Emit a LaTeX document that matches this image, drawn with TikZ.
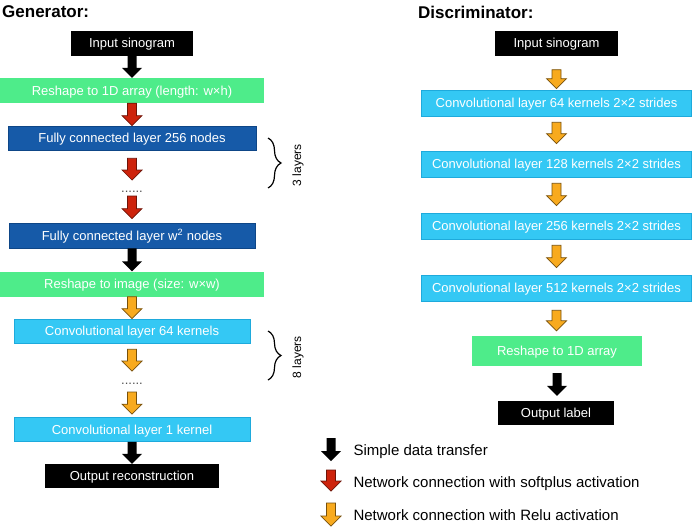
\documentclass[tikz,border=0pt]{standalone}
\usepackage{fontspec}
\setmainfont{Liberation Sans}
\usepackage{tikz}
\usetikzlibrary{calc}
\usetikzlibrary{decorations.pathreplacing}
\definecolor{mint}{RGB}{78,236,138}
\definecolor{navy}{RGB}{22,90,168}
\definecolor{navyline}{RGB}{14,70,135}
\definecolor{sky}{RGB}{52,200,244}
\definecolor{skyline}{RGB}{30,170,220}
\definecolor{redarrow}{RGB}{205,35,12}
\definecolor{redline}{RGB}{110,20,8}
\definecolor{orangearrow}{RGB}{248,170,30}
\definecolor{orangeline}{RGB}{120,80,10}
\definecolor{dotgray}{RGB}{80,80,80}
\tikzstyle{block} = [rectangle, text=white, minimum height=25pt, text centered, inner sep=0pt, text height=9.3pt, text depth=0pt, font=\fontsize{13}{15}\selectfont]
\tikzstyle{terminal} = [block, fill=black]
\tikzstyle{reshape} = [block, fill=mint]
\tikzstyle{dense} = [block, fill=navy, draw=navyline, line width=0.6pt]
\tikzstyle{conv} = [block, fill=sky, draw=skyline, line width=0.6pt]
\tikzstyle{dots} = [anchor=base, text=dotgray, font=\fontsize{13}{15}\selectfont]
\tikzstyle{simple} = [fill=black]
\tikzstyle{softplus} = [fill=redarrow, draw=redline, line width=0.7pt]
\tikzstyle{relu} = [fill=orangearrow, draw=orangeline, line width=0.7pt]
\tikzstyle{layerbrace} = [line width=1.2pt, decorate, decoration={brace, amplitude=13pt}]
\newcommand{\blockarrow}[3]{%
  \path[#1] let \p1=(#2), \p2=(#3) in
    (\x1-4.5pt,\y1) -- (\x1+4.5pt,\y1) -- (\x1+4.5pt,\y2+10pt) -- (\x1+10pt,\y2+10pt)
    -- (\x1,\y2) -- (\x1-10pt,\y2+10pt) -- (\x1-4.5pt,\y2+10pt) -- cycle;}
\begin{document}
\begin{tikzpicture}[x=1pt,y=-1pt]
\useasboundingbox (0,0) rectangle (692,528);
% generator
\node (gtitle) at (2,12) [anchor=west, inner sep=0pt, font=\bfseries\fontsize{17}{20}\selectfont] {Generator:};
\node (gin) at (132,43) [terminal, minimum width=122pt] {Input sinogram};
\node (gresh1) at (132,90.5) [reshape, minimum width=264pt] {Reshape to 1D array (length: w×h)};
\node (gfc1) at (132,138) [dense, minimum width=248pt, minimum height=24pt] {Fully connected layer 256 nodes};
\node (gdots1) at (132,192) [dots] {......};
\node (gfc2) at (132,235.5) [dense, minimum width=246pt] {Fully connected layer w\textsuperscript{2} nodes};
\node (gresh2) at (132,284) [reshape, minimum width=264pt] {Reshape to image (size: w×w)};
\node (gconv1) at (132,331) [conv, minimum width=236pt, minimum height=24pt] {Convolutional layer 64 kernels};
\node (gdots2) at (132,384) [dots] {......};
\node (gconv2) at (132,429.5) [conv, minimum width=236pt, minimum height=24pt] {Convolutional layer 1 kernel};
\node (gout) at (132,476) [terminal, minimum width=174pt, minimum height=24pt] {Output reconstruction};
\blockarrow{simple}{gin.south}{gresh1.north}
\blockarrow{softplus}{gresh1.south}{gfc1.north}
\blockarrow{softplus}{$(gfc1.south)+(0,8)$}{$(gdots1.base)+(0,-12)$}
\blockarrow{softplus}{$(gdots1.base)+(0,4)$}{$(gfc2.north)+(0,-4)$}
\blockarrow{simple}{gfc2.south}{gresh2.north}
\blockarrow{relu}{gresh2.south}{gconv1.north}
\blockarrow{relu}{$(gconv1.south)+(0,6)$}{$(gdots2.base)+(0,-13)$}
\blockarrow{relu}{$(gdots2.base)+(0,8)$}{$(gconv2.north)+(0,-3)$}
\blockarrow{simple}{gconv2.south}{gout.north}
\draw[layerbrace] (268,138) -- (268,188);
\node (glayers1) at (298,165) [rotate=90, font=\fontsize{12}{14}\selectfont] {3 layers};
\draw[layerbrace] (268,331) -- (268,380);
\node (glayers2) at (298,357) [rotate=90, font=\fontsize{12}{14}\selectfont] {8 layers};
% discriminator
\node (dtitle) at (418,12) [anchor=west, inner sep=0pt, font=\bfseries\fontsize{17}{20}\selectfont] {Discriminator:};
\node (din) at (556.5,43) [terminal, minimum width=123pt] {Input sinogram};
\node (dconv1) at (556.5,103) [conv, minimum width=270pt, minimum height=26pt] {Convolutional layer 64 kernels 2×2 strides};
\node (dconv2) at (556.5,164) [conv, minimum width=270pt, minimum height=26pt] {Convolutional layer 128 kernels 2×2 strides};
\node (dconv3) at (556.5,226) [conv, minimum width=270pt, minimum height=26pt] {Convolutional layer 256 kernels 2×2 strides};
\node (dconv4) at (556.5,288) [conv, minimum width=270pt, minimum height=26pt] {Convolutional layer 512 kernels 2×2 strides};
\node (dresh) at (557,351) [reshape, minimum width=170pt, minimum height=30pt] {Reshape to 1D array};
\node (dout) at (556,413) [terminal, minimum width=116pt, minimum height=24pt] {Output label};
\blockarrow{relu}{$(din.south)+(0,14)$}{$(dconv1.north)+(0,-1)$}
\blockarrow{relu}{$(dconv1.south)+(0,6)$}{$(dconv2.north)+(0,-7)$}
\blockarrow{relu}{$(dconv2.south)+(0,6)$}{$(dconv3.north)+(0,-7)$}
\blockarrow{relu}{$(dconv3.south)+(0,6)$}{$(dconv4.north)+(0,-7)$}
\blockarrow{relu}{$(dconv4.south)+(0,9)$}{$(dresh.north)+(0,-5)$}
\blockarrow{simple}{$(dresh.south)+(0,7)$}{$(dout.north)+(0,-5)$}
% legend
\coordinate (leg1a) at (331,438);
\coordinate (leg1b) at (331,461);
\coordinate (leg2a) at (331,470);
\coordinate (leg2b) at (331,491);
\coordinate (leg3a) at (331,503);
\coordinate (leg3b) at (331,526);
\blockarrow{simple}{leg1a}{leg1b}
\blockarrow{softplus}{leg2a}{leg2b}
\blockarrow{relu}{leg3a}{leg3b}
\node (leg1) at (350,452) [anchor=west, font=\fontsize{15}{18}\selectfont] {Simple data transfer};
\node (leg2) at (350,484) [anchor=west, font=\fontsize{15}{18}\selectfont] {Network connection with softplus activation};
\node (leg3) at (350,515) [anchor=west, font=\fontsize{15}{18}\selectfont] {Network connection with Relu activation};
\end{tikzpicture}
\end{document}
